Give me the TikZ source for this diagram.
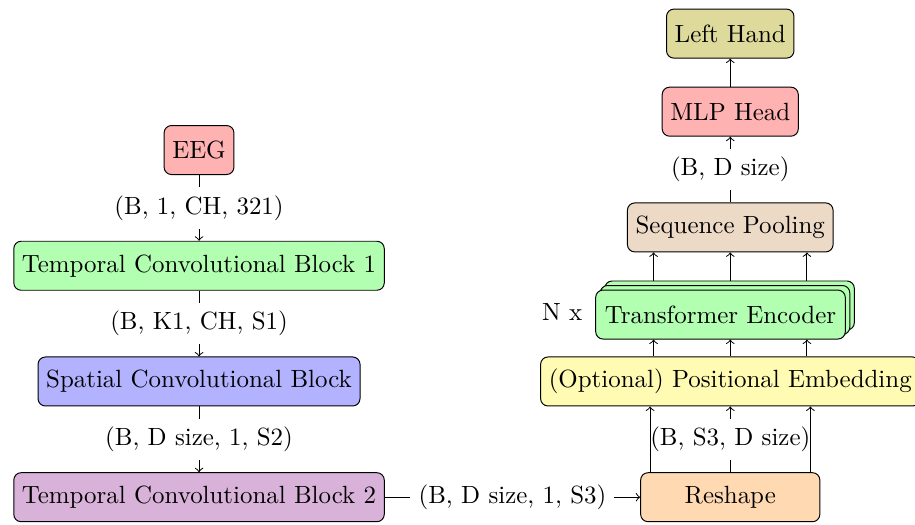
\documentclass[tikz,border=0pt]{standalone}
\usepackage{tikz}
\usetikzlibrary{positioning}
\usepackage{amsmath}

\begin{document}
\begin{tikzpicture}[->,node distance=1.66cm,
	every node/.style={font=\fontsize{10.17}{12}\selectfont},
	block/.style={draw,rounded corners=3pt,minimum height=20pt},
	encoder/.style={block,fill=green!30,minimum width=3.58cm},
	dims/.style={fill=white}]

\useasboundingbox(-2.855,-5.366)rectangle(10.27,2.152);

\node[block,fill=red!30](eeg)at(0,0){EEG};
\node[block,fill=green!30](tcb1)[below of=eeg]{Temporal Convolutional Block 1};
\node[block,fill=blue!30](scb)[below of=tcb1]{Spatial Convolutional Block};
\node[block,fill=violet!30](tcb2)[below of=scb]{Temporal Convolutional Block 2};
\node[block,fill=orange!30,minimum width=2.57cm](reshape)[right of=tcb2,xshift=5.96cm]{Reshape};
\node[block,fill=yellow!30](pos)[above of=reshape]{(Optional) Positional Embedding};
\node[encoder](enc3)[above of=pos,xshift=-0.01cm,yshift=-0.57cm]{};
\node[encoder](enc2)[above of=pos,xshift=-0.075cm,yshift=-0.635cm]{};
\node[encoder](enc)[above of=pos,xshift=-0.14cm,yshift=-0.7cm]{Transformer Encoder};
\node(nx)[left of=enc,xshift=-0.61cm,yshift=0.04cm]{N x};
\node[block,fill=brown!30](seq)[above of=pos,yshift=0.55cm]{Sequence Pooling};
\node[block,fill=red!30](mlp)[above of=seq]{MLP Head};
\node[block,fill=olive!30](hand)[above of=mlp,yshift=-0.54cm]{Left Hand};

\path(eeg)edge node[dims]{(B, 1, CH, 321)}(tcb1)
	(tcb1)edge node[dims]{(B, K1, CH, S1)}(scb)
	(scb)edge node[dims]{(B, D size, 1, S2)}(tcb2)
	(tcb2)edge node[dims]{(B, D size, 1, S3)}(reshape)
	(reshape)edge node[dims]{(B, S3, D size)}(pos)
	([xshift=-1.15cm]reshape.north)edge([xshift=-1.15cm]pos.south)
	([xshift=1.15cm]reshape.north)edge([xshift=1.15cm]pos.south)
	([xshift=-1.1cm]pos.north)edge([xshift=-1.1cm]pos.north |- enc.south)
	(pos.north)edge(pos.north |- enc.south)
	([xshift=1.1cm]pos.north)edge([xshift=1.1cm]pos.north |- enc.south)
	([xshift=-1.1cm]seq.south |- enc3.north)edge([xshift=-1.1cm]seq.south)
	(seq.south |- enc3.north)edge(seq.south)
	([xshift=1.1cm]seq.south |- enc3.north)edge([xshift=1.1cm]seq.south)
	(seq)edge node[dims]{(B, D size)}(mlp)
	(mlp)edge(hand);

\end{tikzpicture}
\end{document}
